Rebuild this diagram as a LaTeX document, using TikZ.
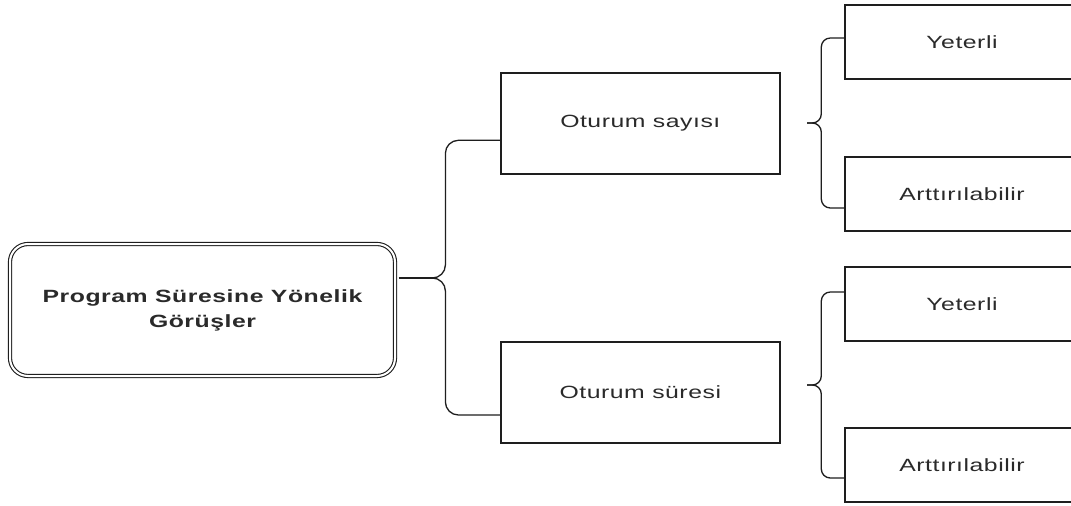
\documentclass[tikz,border=0pt]{standalone}
\usepackage{fontspec}
\setmainfont{Liberation Sans}
\newfontfamily\lblfont[FakeStretch=1.4,LetterSpace=3]{Liberation Sans}
\usetikzlibrary{calc}
\definecolor{ink}{HTML}{1E1E1E}
\definecolor{txt}{HTML}{2A2A2A}
\tikzset{
  box/.style={draw=ink, line width=1.4pt, rectangle, inner sep=0pt,
    font=\lblfont\fontsize{17.7}{22}\selectfont, text=txt},
  rootbox/.style={draw=ink, double=white, double distance=2pt, line width=1.1pt,
    rounded corners=18pt, inner sep=0pt, align=center,
    font=\lblfont\bfseries\fontsize{17.7}{25}\selectfont, text=txt},
  bracel/.style={draw=ink, line width=1.3pt, rounded corners=13pt},
  bracer/.style={draw=ink, line width=1.3pt, rounded corners=9pt},
  link/.style={draw=ink, line width=1.3pt},
}
\begin{document}
\begin{tikzpicture}[x=1pt,y=-1pt]
\clip (0,0) rectangle (1071,506);
\fill[white] (0,0) rectangle (1071,506);

% nodes
\node[rootbox, minimum width=385pt, minimum height=132pt] (main) at (202.5,310)
  {Program Süresine Yönelik\\Görüşler};
\node[box, minimum width=279pt, minimum height=101pt] (sayisi) at (640.3,123.3) {Oturum sayısı};
\node[box, minimum width=279pt, minimum height=101pt] (suresi) at (640.3,392.5) {Oturum süresi};
\node[box, minimum width=234pt, minimum height=74pt] (y1) at (962,42) {Yeterli};
\node[box, minimum width=234pt, minimum height=74pt] (a1) at (962,194) {Arttırılabilir};
\node[box, minimum width=234pt, minimum height=74pt] (y2) at (962,304) {Yeterli};
\node[box, minimum width=234pt, minimum height=74pt] (a2) at (962,465) {Arttırılabilir};

% brace tips
\coordinate (T0) at (433,278);
\coordinate (T1) at (807,123);
\coordinate (T2) at (807,385);

% left brace
\draw[link] ([xshift=3pt,yshift=32pt]main.east) -- (T0);
\draw[bracel] ([yshift=-17pt]sayisi.west) -- ++(-54.7,0) |- (T0);
\draw[bracel] ([yshift=-22.5pt]suresi.west) -- ++(-54.7,0) |- (T0);

% right brace 1
\draw[bracer] ([yshift=4pt]y1.west) -- ++(-23,0) |- (T1);
\draw[bracer] ([yshift=-14pt]a1.west) -- ++(-23,0) |- (T1);

% right brace 2
\draw[bracer] ([yshift=12pt]y2.west) -- ++(-23,0) |- (T2);
\draw[bracer] ([yshift=-13pt]a2.west) -- ++(-23,0) |- (T2);
\end{tikzpicture}
\end{document}
